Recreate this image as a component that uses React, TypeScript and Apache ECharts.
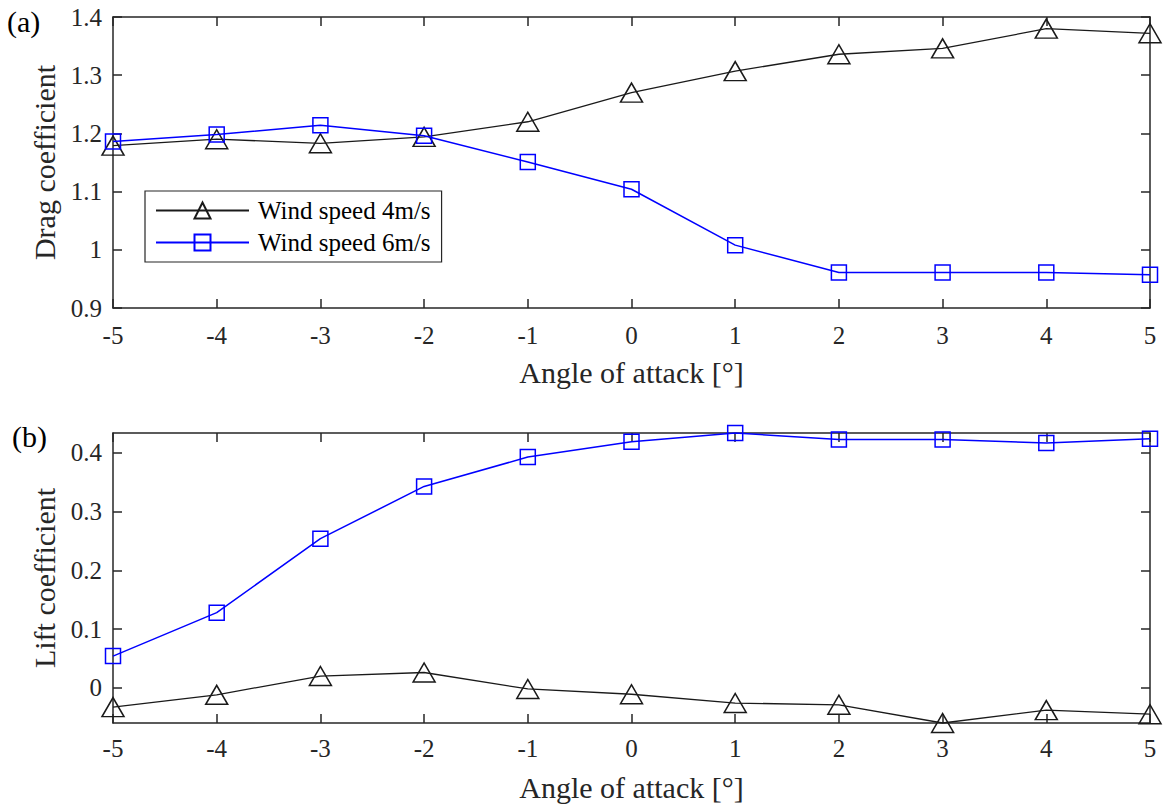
import React, { useEffect, useRef } from "react";
import * as echarts from "echarts";

const angles = [-5, -4, -3, -2, -1, 0, 1, 2, 3, 4, 5];
const drag4 = [1.179, 1.19, 1.183, 1.194, 1.22, 1.27, 1.307, 1.336, 1.346, 1.38, 1.372];
const drag6 = [1.186, 1.198, 1.214, 1.196, 1.151, 1.104, 1.008, 0.961, 0.961, 0.961, 0.957];
const lift4 = [-0.033, -0.012, 0.02, 0.026, -0.002, -0.011, -0.026, -0.029, -0.06, -0.038, -0.045];
const lift6 = [0.054, 0.128, 0.254, 0.343, 0.393, 0.419, 0.434, 0.423, 0.423, 0.417, 0.424];
const liftTicks = [0, 0.1, 0.2, 0.3, 0.4];
const seriesNames = ["Wind speed 4m/s", "Wind speed 6m/s"];
const xName = "Angle of attack [°]";
const dragName = "Drag coefficient";
const liftName = "Lift coefficient";
const panelLabels = ["(a)", "(b)"];

const FONT = "'Liberation Serif', serif";
const AX = "#262626";

const pairs = (ys: number[]) => angles.map((a, i) => [a, ys[i]]);

export default function App() {
  const ref = useRef<HTMLDivElement>(null);
  useEffect(() => {
    if (!ref.current) return;
    const chart = echarts.init(ref.current, undefined, { renderer: "svg" });
    const axisLine = { show: true, onZero: false, lineStyle: { color: AX, width: 1.5 } };
    const tick = { show: true, inside: true, length: 9, lineStyle: { color: AX, width: 1.5 } };
    const label = { color: AX, fontFamily: FONT, fontSize: 25 };
    const nameStyle = { color: AX, fontFamily: FONT, fontSize: 30 };

    const xBase = (gridIndex: number, position: string, withLabels: boolean, margin: number) => ({
      type: "value",
      gridIndex,
      position,
      min: -5,
      max: 5,
      interval: 1,
      axisLine,
      axisTick: tick,
      splitLine: { show: false },
      axisLabel: withLabels ? { ...label, margin } : { show: false },
      ...(withLabels
        ? { name: xName, nameLocation: "middle", nameGap: 49, nameTextStyle: nameStyle }
        : {}),
    });

    const blackSeries = (name: string, data: number[][], xi: number, yi: number) => ({
      type: "line",
      name,
      xAxisIndex: xi,
      yAxisIndex: yi,
      data,
      symbol: "triangle",
      symbolSize: [22, 19],
      clip: false,
      lineStyle: { color: "#1a1a1a", width: 1.3 },
      itemStyle: { color: "rgba(0,0,0,0)", borderColor: "#1a1a1a", borderWidth: 1.5 },
      z: 2,
    });
    const blueSeries = (name: string, data: number[][], xi: number, yi: number) => ({
      type: "line",
      name,
      xAxisIndex: xi,
      yAxisIndex: yi,
      data,
      symbol: "rect",
      symbolSize: 15,
      clip: false,
      lineStyle: { color: "#0000ff", width: 1.5 },
      itemStyle: { color: "rgba(0,0,0,0)", borderColor: "#0000ff", borderWidth: 1.5 },
      z: 3,
    });

    chart.setOption({
      animation: false,
      backgroundColor: "#ffffff",
      textStyle: { fontFamily: FONT },
      grid: [
        { left: 113, top: 17, width: 1037, height: 291 },
        { left: 113, top: 433, width: 1037, height: 290 },
      ],
      xAxis: [
        xBase(0, "bottom", true, 15),
        xBase(0, "top", false, 0),
        xBase(1, "bottom", true, 13),
        xBase(1, "top", false, 0),
      ],
      yAxis: [
        {
          type: "value",
          gridIndex: 0,
          position: "left",
          min: 0.9,
          max: 1.4,
          interval: 0.1,
          axisLine,
          axisTick: tick,
          splitLine: { show: false },
          axisLabel: { ...label, margin: 11 },
          name: dragName,
          nameLocation: "middle",
          nameGap: 54,
          nameTextStyle: nameStyle,
        },
        {
          type: "value",
          gridIndex: 0,
          position: "right",
          min: 0.9,
          max: 1.4,
          interval: 0.1,
          axisLine,
          axisTick: tick,
          splitLine: { show: false },
          axisLabel: { show: false },
        },
        {
          type: "value",
          gridIndex: 1,
          position: "left",
          min: -0.06,
          max: 0.434,
          axisLine,
          axisTick: { ...tick, customValues: liftTicks },
          splitLine: { show: false },
          axisLabel: { ...label, margin: 11, customValues: liftTicks },
          name: liftName,
          nameLocation: "middle",
          nameGap: 54,
          nameTextStyle: nameStyle,
        },
        {
          type: "value",
          gridIndex: 1,
          position: "right",
          min: -0.06,
          max: 0.434,
          axisLine,
          axisTick: { ...tick, customValues: liftTicks },
          splitLine: { show: false },
          axisLabel: { show: false, customValues: liftTicks },
        },
      ],
      legend: {
        show: true,
        orient: "vertical",
        left: 145,
        top: 191,
        data: seriesNames,
        itemWidth: 93,
        itemHeight: 20,
        itemGap: 7,
        padding: [7, 11, 7, 10],
        borderColor: AX,
        borderWidth: 1.2,
        backgroundColor: "#ffffff",
        selectedMode: false,
        textStyle: { color: "#000", fontFamily: FONT, fontSize: 25, lineHeight: 25, padding: [0, 0, 0, 4] },
      },
      graphic: [
        {
          type: "text",
          left: 7,
          top: 6,
          style: { text: panelLabels[0], fontFamily: FONT, fontSize: 30, fill: "#000" },
        },
        {
          type: "text",
          left: 12,
          top: 421,
          style: { text: panelLabels[1], fontFamily: FONT, fontSize: 30, fill: "#000" },
        },
      ],
      series: [
        blackSeries(seriesNames[0], pairs(drag4), 0, 0),
        blueSeries(seriesNames[1], pairs(drag6), 0, 0),
        blackSeries(seriesNames[0], pairs(lift4), 2, 2),
        blueSeries(seriesNames[1], pairs(lift6), 2, 2),
      ],
    });
    return () => chart.dispose();
  }, []);
  return (
    <div
      ref={ref}
      style={{ position: "fixed", left: 0, top: 0, width: 1166, height: 805, background: "#fff" }}
    />
  );
}
